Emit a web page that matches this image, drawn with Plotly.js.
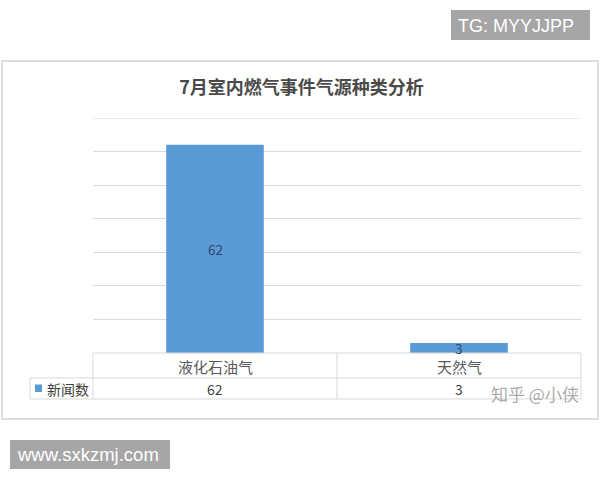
<!DOCTYPE html>
<html>
<head>
<meta charset="utf-8">
<script src="https://cdn.plot.ly/plotly-3.0.1.min.js"></script>
<style>html,body{margin:0;padding:0;background:#fff;}#chart{width:600px;height:480px;}</style>
</head>
<body>
<div id="chart"></div>
<script>
// ---- data ----
var chartTitle = '7月室内燃气事件气源种类分析';
var categories = ['液化石油气', '天然气'];
var seriesName = '新闻数';
var seriesValues = [62, 3];
var yRange = [0, 70];
var yStep = 10;

// ---- layout helpers (pixel -> paper) ----
var W = 600, H = 480;
var mL = 93, mR = 19, mT = 118, mB = 127;
var pw = W - mL - mR, ph = H - mT - mB;
function px(x) { return (x - mL) / pw; }
function py(y) { return (H - mB - y) / ph; }

var cjk = '"Noto Sans CJK SC", "Noto Sans", sans-serif';
var grid = '#d9d9d9';
var barColor = '#5b9bd5';

var shapes = [];
var annotations = [];

// outer chart frame
shapes.push({type: 'rect', xref: 'paper', yref: 'paper', x0: px(2), x1: px(598), y0: py(61), y1: py(419),
  line: {color: '#d4d4d4', width: 1.5}, fillcolor: 'rgba(0,0,0,0)', layer: 'below'});

// top gridline at the axis maximum (Plotly skips the grid line on the range edge)
shapes.push({type: 'line', xref: 'paper', yref: 'y', x0: 0, x1: 1, y0: yRange[1], y1: yRange[1],
  line: {color: grid, width: 1}, layer: 'below'});

// data table lines
var tTop = 353, tMid = 378, tBot = 399, tLeft = 93, tRight = 581, legLeft = 30;
function hline(x0, x1, y) { shapes.push({type: 'line', xref: 'paper', yref: 'paper', x0: px(x0), x1: px(x1), y0: py(y), y1: py(y), line: {color: grid, width: 1}}); }
function vline(x, y0, y1) { shapes.push({type: 'line', xref: 'paper', yref: 'paper', x0: px(x), x1: px(x), y0: py(y0), y1: py(y1), line: {color: grid, width: 1}}); }
hline(tLeft, tRight, tTop);
hline(legLeft, tRight, tMid);
hline(legLeft, tRight, tBot);
vline(tLeft, tTop, tBot);
vline(legLeft, tMid, tBot);
vline(tRight, tTop, tBot);
for (var i = 1; i < categories.length; i++) {
  var xd = tLeft + (tRight - tLeft) * i / categories.length;
  vline(xd, tTop, tBot);
}

// legend key in table
shapes.push({type: 'rect', xref: 'paper', yref: 'paper', x0: px(35), x1: px(42), y0: py(384.5), y1: py(392),
  fillcolor: barColor, line: {width: 0}});
annotations.push({xref: 'paper', yref: 'paper', x: px(45), y: py(388.5), xanchor: 'left', yanchor: 'middle',
  text: seriesName, showarrow: false, font: {family: cjk, size: 14, color: '#404040'}});

// category labels and values in table
categories.forEach(function (c, i) {
  annotations.push({xref: 'x', yref: 'paper', x: c, y: py(366), yanchor: 'middle', text: c, showarrow: false, borderpad: 0,
    font: {family: cjk, size: 15, color: '#595959'}});
  annotations.push({xref: 'x', yref: 'paper', x: c, y: py(388.5), yanchor: 'middle', text: String(seriesValues[i]), showarrow: false,
    font: {family: cjk, size: 14, color: '#404040'}});
  // bar data labels (centred in bar)
  annotations.push({xref: 'x', yref: 'y', x: c, y: seriesValues[i] / 2, yanchor: 'middle', text: String(seriesValues[i]), showarrow: false, borderpad: 0,
    font: {family: cjk, size: 13.5, color: '#2b4774'}});
});

// watermarks
shapes.push({type: 'rect', xref: 'paper', yref: 'paper', x0: px(451), x1: px(590), y0: py(10), y1: py(40),
  fillcolor: '#a6a6a6', line: {width: 0}});
annotations.push({xref: 'paper', yref: 'paper', x: px(456), y: py(25.5), xanchor: 'left', yanchor: 'middle',
  text: 'TG: MYYJJPP', showarrow: false, font: {family: 'Liberation Sans, Arial, sans-serif', size: 18, color: '#ffffff'}});
shapes.push({type: 'rect', xref: 'paper', yref: 'paper', x0: px(10), x1: px(170), y0: py(440), y1: py(469),
  fillcolor: '#a6a6a6', line: {width: 0}});
annotations.push({xref: 'paper', yref: 'paper', x: px(15), y: py(454.5), xanchor: 'left', yanchor: 'middle',
  text: 'www.sxkzmj.com', showarrow: false, font: {family: 'Liberation Sans, Arial, sans-serif', size: 18.5, color: '#ffffff'}});
annotations.push({xref: 'paper', yref: 'paper', x: px(489), y: py(393), xanchor: 'left', yanchor: 'middle',
  text: '知乎 @小侠', showarrow: false, font: {family: cjk, size: 17, color: 'rgba(140,140,140,0.75)'}});

var data = [{
  type: 'bar',
  name: seriesName,
  x: categories,
  y: seriesValues,
  marker: {color: barColor, line: {width: 0}},
  hoverinfo: 'skip'
}];

var layout = {
  width: W, height: H,
  margin: {l: mL, r: mR, t: mT, b: mB, pad: 0},
  paper_bgcolor: '#ffffff', plot_bgcolor: '#ffffff',
  showlegend: false,
  bargap: 0.6,
  title: {text: chartTitle, xref: 'paper', x: px(301.5), xanchor: 'center', yref: 'container', y: 1 - 88 / H, yanchor: 'middle',
    font: {family: cjk, size: 18, color: '#4a4a4a', weight: 'bold'}},
  xaxis: {type: 'category', showticklabels: false, showgrid: false, zeroline: false, showline: false, ticks: '', fixedrange: true},
  yaxis: {range: yRange, dtick: yStep, tick0: 0, showticklabels: false, showgrid: true, gridcolor: grid, gridwidth: 1,
    zeroline: false, showline: false, ticks: '', fixedrange: true},
  shapes: shapes,
  annotations: annotations,
  hovermode: false
};

Plotly.newPlot('chart', data, layout, {displayModeBar: false, staticPlot: true});
</script>
</body>
</html>
